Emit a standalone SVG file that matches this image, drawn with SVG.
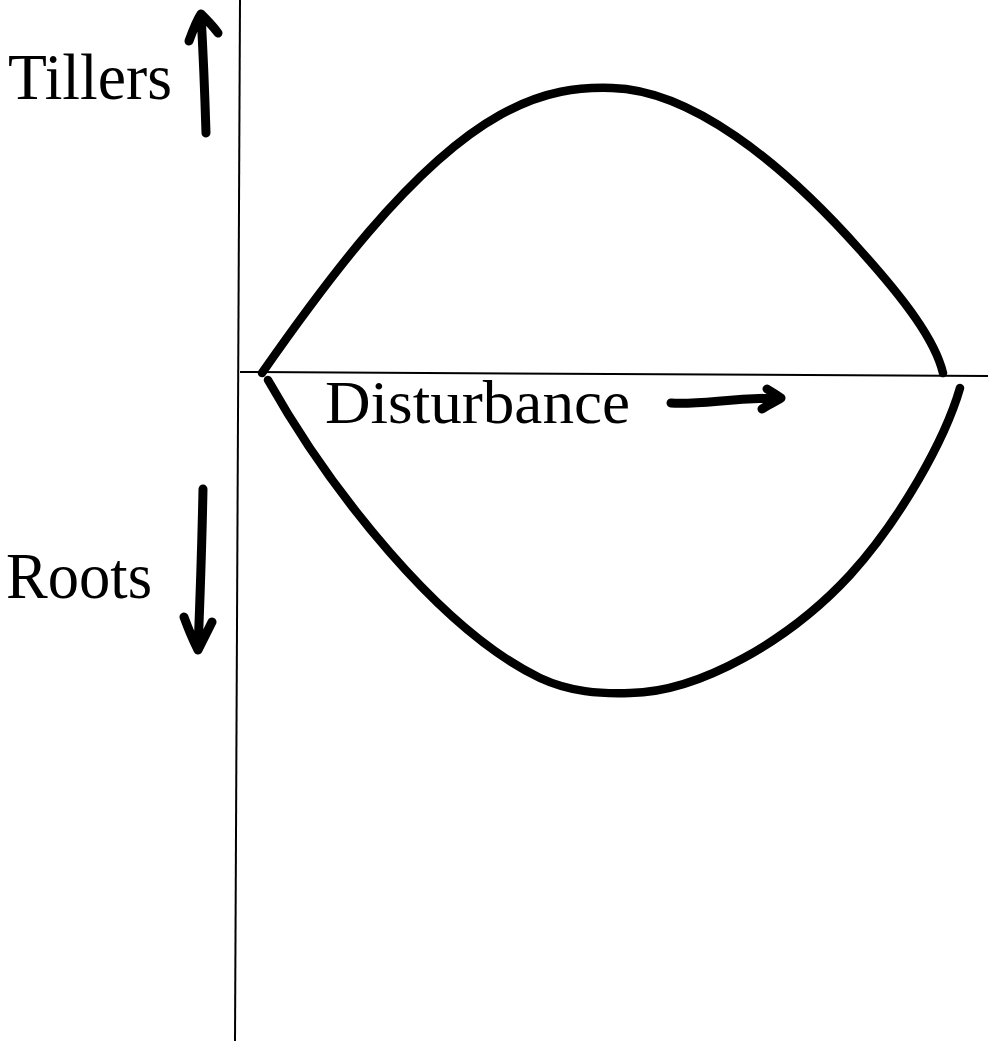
<svg xmlns="http://www.w3.org/2000/svg" width="988" height="1041" viewBox="0 0 988 1041">
<style>
.lbl{font-family:"Liberation Serif","Times New Roman",serif;fill:#000}
.axis{stroke:#000;stroke-width:2;fill:none}
.curve{stroke:#000;stroke-width:8.5;fill:none;stroke-linecap:round;stroke-linejoin:round}
.arr{stroke:#000;stroke-width:9;fill:none;stroke-linecap:round;stroke-linejoin:round}
</style>
<rect width="988" height="1041" fill="#fff"/>
<g id="axes">
<path class="axis" d="M240,0 L235,1041"/>
<path class="axis" d="M240,372 L988,376"/>
</g>
<g id="curves">
<path id="tillers-curve" class="curve" d="M262,373 C320,290 410,165 500,115 C545,90 580,87 612,88 C690,90 780,160 860,250 C905,300 935,340 943,373"/>
<path id="roots-curve" class="curve" d="M268,380 C330,490 440,630 540,678 C570,692 600,694 630,693 C700,692 790,640 850,575 C900,520 945,440 960,388"/>
</g>
<g id="tillers">
<text class="lbl" x="8" y="99" font-size="66" textLength="164" lengthAdjust="spacingAndGlyphs">Tillers</text>
<path class="arr" d="M206,133 C205,100 203,50 201,14 M189,41 C193,30 197,20 201,14 C207,20 213,26 218,33"/>
</g>
<g id="roots">
<text class="lbl" x="6" y="598" font-size="65" textLength="146" lengthAdjust="spacingAndGlyphs">Roots</text>
<path class="arr" d="M203,489 C202,540 200,600 198,650 M184,617 C188,628 193,640 198,650 C203,640 208,630 212,622"/>
</g>
<g id="disturbance">
<text class="lbl" x="325" y="423" font-size="61" textLength="305" lengthAdjust="spacingAndGlyphs">Disturbance</text>
<path class="arr" d="M671,403 C700,405 730,398 781,398 M767,389 C772,392 777,395 781,398 C775,402 768,405 762,409"/>
</g>
</svg>
